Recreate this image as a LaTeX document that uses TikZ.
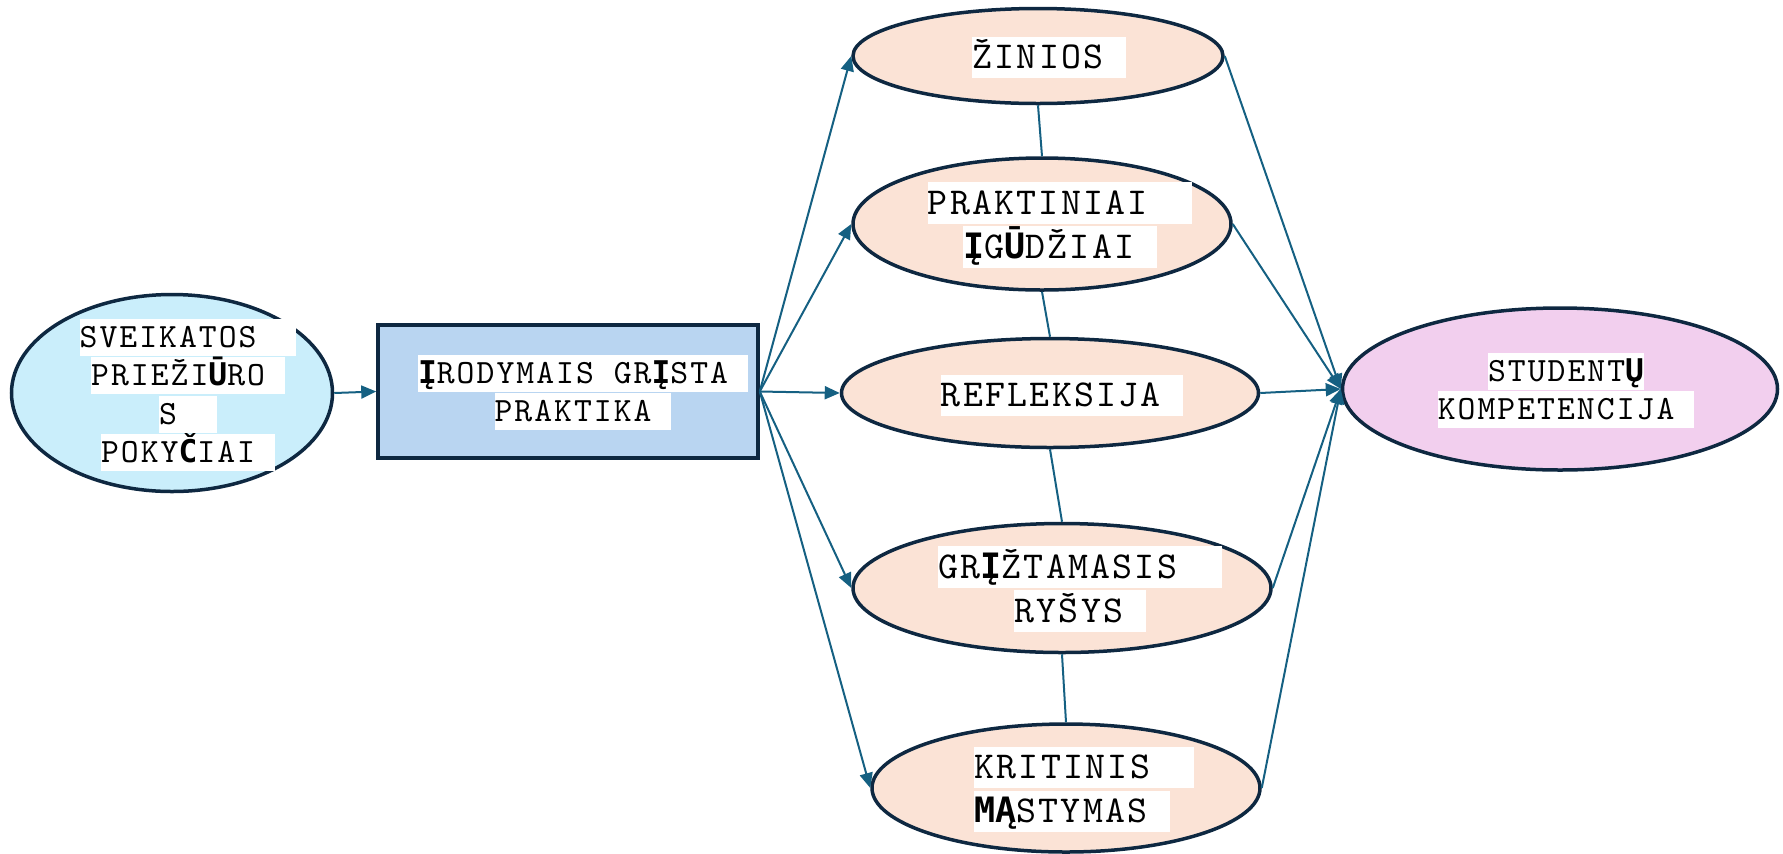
\documentclass[tikz,border=0pt]{standalone}
\usepackage{fontspec}
\usetikzlibrary{shapes.geometric,arrows.meta}
\newfontfamily\fbk{DejaVu Sans Mono}[Scale=0.92]
\newfontfamily\monof{lmmono10-regular.otf}[LetterSpace=6]
\definecolor{border}{HTML}{0E2841}
\definecolor{conncol}{HTML}{156082}
\definecolor{cyanfill}{HTML}{CAEEFB}
\definecolor{rectfill}{HTML}{B9D5F1}
\definecolor{beige}{HTML}{FBE3D6}
\definecolor{pinkfill}{HTML}{F2CFEE}
\newcommand\hlL[1]{{\setlength\fboxsep{0pt}\colorbox{white}{\rule[-4.6pt]{0pt}{20.6pt}#1}}}
\newcommand\hlS[1]{{\setlength\fboxsep{0pt}\colorbox{white}{\rule[-4.3pt]{0pt}{18.6pt}#1}}}
\newcommand\fb[1]{{\fbk\bfseries #1}}
\tikzset{
  shp/.style={draw=border, line width=1.75pt, inner sep=0pt},
  oval/.style={shp, ellipse},
  box/.style={shp, rectangle},
  conn/.style={draw=conncol, line width=1pt},
  arr/.style={conn, -{Triangle[length=7.5pt,width=6.5pt]}},
  txtL/.style={inner sep=0pt, align=center, font=\monof\fontsize{19}{22}\selectfont},
  txtS/.style={inner sep=0pt, align=center, font=\monof\fontsize{17}{19.25}\selectfont},
}
\begin{document}
\begin{tikzpicture}[x=0.5pt,y=-0.5pt]
\useasboundingbox (0,0) rectangle (1783,853);
% shapes
\node[oval, fill=cyanfill, minimum width=160.5pt, minimum height=98.5pt] (sv) at (172,393) {};
\node[box, fill=rectfill, minimum width=190pt, minimum height=66.5pt] (ip) at (568,391.5) {};
\node[oval, fill=beige, minimum width=185pt, minimum height=47.5pt] (zi) at (1038,56) {};
\node[oval, fill=beige, minimum width=189pt, minimum height=66pt] (pr) at (1042,224) {};
\node[oval, fill=beige, minimum width=208.5pt, minimum height=54.5pt] (re) at (1050,393) {};
\node[oval, fill=beige, minimum width=209pt, minimum height=64.5pt] (gr) at (1062,588) {};
\node[oval, fill=beige, minimum width=194pt, minimum height=64pt] (kr) at (1066,788) {};
\node[oval, fill=pinkfill, minimum width=217.5pt, minimum height=81pt] (st) at (1560,389) {};
% texts
\node[txtS] (tsv) at (188,395) {\hlS{SVEIKATOS\ \ }\\\hlS{PRIEŽI\fb{Ū}RO\ }\\\hlS{S\ \ }\\\hlS{POKY\fb{Č}IAI\ }};
\node[txtS] (tip) at (583,392.5) {\hlS{\fb{Į}RODYMAIS GR\fb{Į}STA\ }\\\hlS{PRAKTIKA\ }};
\node[txtL] (tzi) at (1049,57.5) {\hlL{ŽINIOS\ }};
\node[txtL] (tpr) at (1060,225) {\hlL{PRAKTINIAI\ \ }\\\hlL{\fb{Į}G\fb{Ū}DŽIAI\ }};
\node[txtL] (tre) at (1062,395.5) {\hlL{REFLEKSIJA\ }};
\node[txtL] (tgr) at (1080,589) {\hlL{GR\fb{Į}ŽTAMASIS\ \ }\\\hlL{RYŠYS\ }};
\node[txtL, anchor=west, align=left] (tkr) at (974,789.5) {\hlL{KRITINIS\ \ }\\\hlL{\fb{MĄ}STYMAS\ }};
\node[txtS] (tst) at (1566,390.5) {\hlS{STUDENT\fb{Ų}}\\\hlS{KOMPETENCIJA\ }};
% connectors
\draw[arr] (sv.east) -- (ip.west);
\draw[arr] (ip.east) -- (zi.west);
\draw[arr] (ip.east) -- (pr.west);
\draw[arr] (ip.east) -- (re.west);
\draw[arr] (ip.east) -- (gr.west);
\draw[arr] (ip.east) -- (kr.west);
\draw[conn] (zi.south) -- (pr.north);
\draw[conn] (pr.south) -- (re.north);
\draw[conn] (re.south) -- (gr.north);
\draw[conn] (gr.south) -- (kr.north);
\draw[arr] (zi.east) -- (st.west);
\draw[arr] (pr.east) -- (st.west);
\draw[arr] (re.east) -- (st.west);
\draw[arr] (gr.east) -- (st.west);
\draw[arr] (kr.east) -- (st.west);
\end{tikzpicture}
\end{document}
